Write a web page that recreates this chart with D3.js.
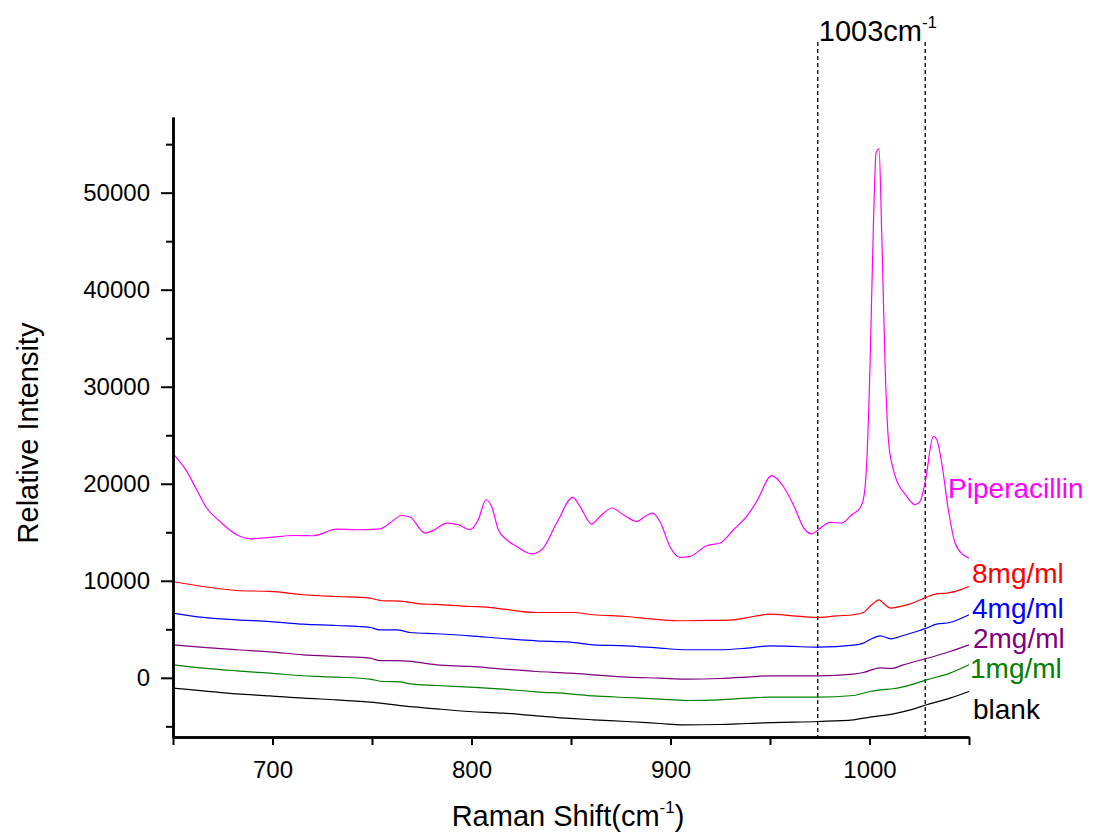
<!DOCTYPE html>
<html lang="en">
<head>
  <meta charset="UTF-8">
  <script src="https://d3js.org/d3.v7.min.js" charset="utf-8"></script>
  <title>Raman spectra</title>
  <style>
    body { margin: 0; background: #fff; }
    svg { font-family: "Liberation Sans", Arial, sans-serif; }
  </style>
</head>
<body>
  <div class="chart"></div>
  <script>
    // spectra: [Raman shift (cm-1), intensity]
    const piperacillin = [[650,23100],[656.9,21270],[661.9,19380],[666.9,17500],[673.6,16110],[682,14740],[689.5,14330],[698.7,14470],[710.5,14670],[720.5,14640],[732.3,15330],[742.3,15260],[754,15360],[759,15950],[764.9,16730],[769.1,16570],[776.6,14920],[780.8,15190],[787.5,15950],[793.4,15780],[799.2,15260],[803.4,16290],[807.3,18350],[810.1,17660],[813.5,15260],[817.7,14230],[822.7,13540],[830.2,12780],[835.3,13200],[842.8,15950],[850.9,18590],[854.5,17660],[860.4,15850],[864.6,16630],[870.5,17500],[876.3,16810],[883,16110],[887.2,16630],[890.9,16980],[894.7,16110],[899.7,13540],[904.8,12400],[909.8,12510],[918.2,13610],[924.9,13890],[931.6,15260],[938.3,16630],[943.3,18180],[950.9,20830],[956.7,19720],[961.7,17840],[967.6,15260],[971,14850],[974.3,15260],[980.2,16010],[986,15950],[991.1,16810],[995.2,17500],[997.2,18700],[998.6,22140],[1000.3,32450],[1001.9,46190],[1003.3,54100],[1004.8,54510],[1006.1,46190],[1007.8,32450],[1009.5,24540],[1012,21440],[1018.7,18700],[1022.9,17840],[1025.4,18180],[1027.9,20070],[1032.1,24880],[1033.7,24610],[1036.3,22140],[1039.6,17320],[1043,13890],[1047.1,12680],[1050,12340]];
    const mg8 = [[650,9930],[665.2,9410],[682,9000],[698.7,8900],[715.5,8560],[732.3,8380],[749,8220],[754,7970],[765.7,7870],[774.1,7630],[782.5,7560],[799.2,7350],[807.6,7290],[816,7080],[832.7,6730],[851.2,6730],[861.2,6500],[878,6320],[891.4,6050],[903.1,5880],[919.8,5910],[931.6,5980],[941.6,6320],[950,6570],[961.7,6390],[973.5,6220],[983.5,6390],[991.9,6500],[996.9,6730],[1001.1,7530],[1004.9,8040],[1007.8,7530],[1010.8,7190],[1017,7420],[1023.7,7870],[1028.7,8320],[1033.7,8660],[1038.8,8730],[1045.5,9070],[1050,9410]];
    const mg4 = [[650,6670],[665.2,6220],[682,5980],[698.7,5800],[715.5,5530],[732.3,5390],[749,5190],[754,4950],[762.4,4950],[769.1,4670],[782.5,4540],[799.2,4330],[816,4050],[832.7,3810],[849.5,3680],[861.2,3400],[878,3300],[894.7,3060],[908.1,2890],[924.9,2890],[938.3,3060],[950,3300],[961.7,3230],[974.3,3160],[991.9,3370],[996.9,3580],[1001.1,4020],[1005.3,4330],[1010.8,4020],[1017,4360],[1023.7,4770],[1028.7,5120],[1033.7,5530],[1040.4,5700],[1050,6500]];
    const mg2 = [[650,3400],[665.2,3130],[682,2890],[698.7,2680],[715.5,2370],[732.3,2200],[749,2030],[754,1780],[765.7,1750],[782.5,1340],[799.2,1170],[816,900],[832.7,650],[849.5,480],[861.2,310],[878,70],[894.7,-30],[908.1,-140],[924.9,-70],[938.3,70],[950,210],[961.7,210],[974.3,210],[991.9,380],[996.9,550],[1005.3,1030],[1010.8,960],[1017,1340],[1028.7,1990],[1040.4,2710],[1050,3400]];
    const mg1 = [[650,1340],[665.2,1000],[682,720],[698.7,480],[715.5,210],[732.3,70],[749,-140],[755.7,-380],[764.1,-410],[769.1,-620],[782.5,-790],[799.2,-960],[816,-1170],[832.7,-1440],[849.5,-1650],[861.2,-1860],[878,-2030],[894.7,-2200],[908.1,-2340],[924.9,-2270],[938.3,-2100],[950,-1990],[961.7,-1990],[974.3,-1990],[991.9,-1820],[1000.3,-1410],[1005.3,-1240],[1012,-1130],[1022,-650],[1028.7,-210],[1040.4,480],[1050,1340]];
    const blank = [[650,-1060],[665.2,-1340],[682,-1650],[698.7,-1860],[715.5,-2100],[732.3,-2270],[749,-2510],[765.7,-2890],[782.5,-3200],[799.2,-3470],[816,-3640],[832.7,-3920],[849.5,-4190],[861.2,-4330],[878,-4500],[894.7,-4710],[906.4,-4850],[924.9,-4810],[938.3,-4710],[951.7,-4610],[974.3,-4500],[991.9,-4330],[1000.3,-4050],[1012,-3710],[1022,-3230],[1028.7,-2780],[1040.4,-2090],[1050,-1410]];

    const seriesNames = ['Piperacillin', '8mg/ml', '4mg/ml', '2mg/ml', '1mg/ml', 'blank'];
    const seriesData = [piperacillin, mg8, mg4, mg2, mg1, blank];
    const seriesColors = ['#ff00ff', '#ff0000', '#0000ff', '#800080', '#008000', '#000000'];
    // where each name sits, in data units
    const labelX = [1039.5, 1051.5, 1051.5, 1052, 1050.5, 1052];
    const labelY = [18560, 9800, 6190, 3090, 0, -4230];

    const xTicks = [700, 800, 900, 1000];
    const xMinor = [650, 750, 850, 950, 1050];
    const yTicks = [0, 10000, 20000, 30000, 40000, 50000];
    const yMinor = [-5000, 5000, 15000, 25000, 35000, 45000, 55000];
    const markLines = [974, 1028];   // dashed guides round the 1003 cm-1 band

    const width = 1101, height = 832;
    const m = { left: 173, right: 969, top: 117, bottom: 737 };

    const svg = d3.select('.chart').append('svg').attr('width', width).attr('height', height);

    const x = d3.scaleLinear().domain([650, 1050]).range([m.left, m.right]);
    const y = d3.scaleLinear().domain([-6100, 57800]).range([m.bottom, m.top]);

    // dashed guides
    svg.selectAll('line.guide').data(markLines).enter().append('line')
      .attr('class', 'guide')
      .attr('x1', d => x(d)).attr('x2', d => x(d))
      .attr('y1', 42).attr('y2', m.bottom)
      .attr('stroke', '#000').attr('stroke-width', 1.3).attr('stroke-dasharray', '4,3');

    const line = d3.line().x(d => x(d[0])).y(d => y(d[1])).curve(d3.curveMonotoneX);

    svg.selectAll('path.spec').data(seriesData).enter().append('path')
      .attr('class', 'spec')
      .attr('d', line)
      .attr('fill', 'none')
      .attr('stroke', (d, i) => seriesColors[i])
      .attr('stroke-width', 1.2);

    svg.selectAll('text.name').data(seriesNames).enter().append('text')
      .attr('class', 'name')
      .attr('x', (d, i) => x(labelX[i]))
      .attr('y', (d, i) => y(labelY[i]))
      .attr('fill', (d, i) => seriesColors[i])
      .style('font-size', '28px')
      .text(d => d);

    // axes
    const styleAxis = g => {
      g.select('.domain').attr('stroke-width', 2.5);
      g.selectAll('.tick line').attr('stroke-width', 2);
      g.selectAll('.tick text').style('font-size', '24px').style('font-family', '"Liberation Sans", Arial, sans-serif').attr('fill', '#000');
    };

    svg.append('g').attr('transform', `translate(0,${m.bottom})`)
      .call(d3.axisBottom(x).tickValues(xMinor).tickSize(8).tickSizeOuter(0).tickFormat(''))
      .call(styleAxis);
    svg.append('g').attr('transform', `translate(0,${m.bottom})`)
      .call(d3.axisBottom(x).tickValues(xTicks).tickSize(8).tickSizeOuter(0).tickPadding(16).tickFormat(d3.format('d')))
      .call(styleAxis);

    svg.append('g').attr('transform', `translate(${m.left},0)`)
      .call(d3.axisLeft(y).tickValues(yMinor).tickSize(7).tickSizeOuter(0).tickFormat(''))
      .call(styleAxis);
    svg.append('g').attr('transform', `translate(${m.left},0)`)
      .call(d3.axisLeft(y).tickValues(yTicks).tickSize(12).tickSizeOuter(0).tickPadding(11).tickFormat(d3.format('d')))
      .call(styleAxis);

    // titles
    const xt = svg.append('text')
      .attr('x', 568).attr('y', 826)
      .attr('text-anchor', 'middle')
      .style('font-size', '29px');
    xt.append('tspan').text('Raman Shift(cm');
    xt.append('tspan').attr('dy', -13).style('font-size', '17px').text('-1');
    xt.append('tspan').attr('dy', 13).text(')');

    svg.append('text')
      .attr('transform', 'translate(38,433) rotate(-90)')
      .attr('text-anchor', 'middle')
      .style('font-size', '29px')
      .text('Relative Intensity');

    const ann = svg.append('text')
      .attr('x', x(markLines[0]) + 1).attr('y', 41)
      .style('font-size', '29px');
    ann.append('tspan').text('1003cm');
    ann.append('tspan').attr('dy', -13).style('font-size', '17px').text('-1');
  </script>
</body>
</html>
